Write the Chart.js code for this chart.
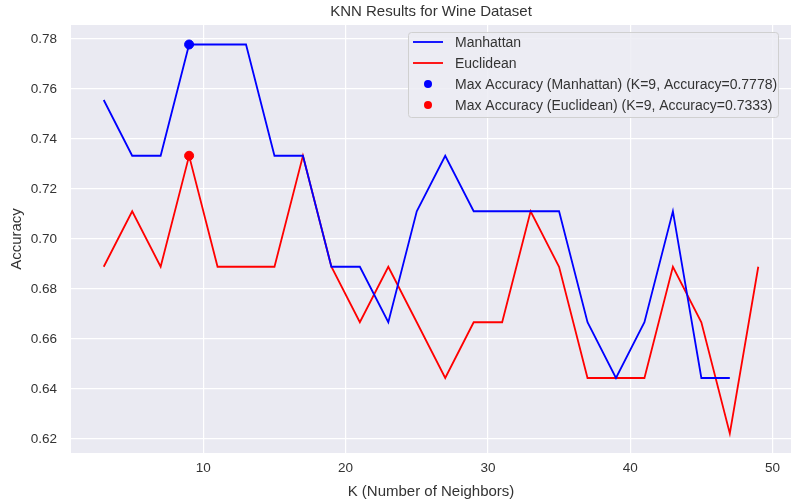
<!DOCTYPE html>
<html>
<head>
<meta charset="utf-8">
<script src="https://cdn.jsdelivr.net/npm/chart.js@4"></script>
<style>
html,body{margin:0;padding:0;background:#fff;}
#wrap{width:791px;height:503px;}
</style>
</head>
<body>
<div id="wrap"><canvas id="c"></canvas></div>
<script>
const kValues=[3,5,7,9,11,13,15,17,19,21,23,25,27,29,31,33,35,37,39,41,43,45,47,49];
const manhattan=[0.7556,0.7333,0.7333,0.7778,0.7778,0.7778,0.7333,0.7333,0.6889,0.6889,0.6667,0.7111,0.7333,0.7111,0.7111,0.7111,0.7111,0.6667,0.6444,0.6667,0.7111,0.6444,0.6444];
const euclidean=[0.6889,0.7111,0.6889,0.7333,0.6889,0.6889,0.6889,0.7333,0.6889,0.6667,0.6889,0.6667,0.6444,0.6667,0.6667,0.7111,0.6889,0.6444,0.6444,0.6444,0.6889,0.6667,0.6222,0.6889];
const maxManhattan={k:9,acc:0.7778};
const maxEuclidean={k:9,acc:0.7333};
const xTicks=[10,20,30,40,50];
const yTicks=[0.62,0.64,0.66,0.68,0.70,0.72,0.74,0.76,0.78];
const chartTitle='KNN Results for Wine Dataset';

const FONT='"Liberation Sans", Arial, sans-serif';
const TXT='#333';

const toPts=(ys)=>ys.map((y,i)=>({x:kValues[i],y}));

// seaborn darkgrid background + title centred over the axes
const bgPlugin={id:'bg',beforeDraw(ch){const a=ch.chartArea,ctx=ch.ctx;ctx.save();ctx.fillStyle='#EAEAF2';ctx.fillRect(a.left,a.top,a.right-a.left,a.bottom-a.top);
  ctx.fillStyle=TXT;ctx.font='15px '+FONT;ctx.textAlign='center';ctx.textBaseline='middle';ctx.fillText(chartTitle,(a.left+a.right)/2,12);ctx.restore();}};

// legend drawn inside the plot, upper right
const legendPlugin={id:'innerLegend',afterDraw(ch){
  const ctx=ch.ctx;ctx.save();
  const bx=408,by=32,bw=370,bh=85;
  ctx.fillStyle='rgba(236,236,243,0.85)';ctx.strokeStyle='#d0d0d0';ctx.lineWidth=1;
  ctx.beginPath();ctx.roundRect(bx+0.5,by+0.5,bw,bh,3);ctx.fill();ctx.stroke();
  ctx.font='14px '+FONT;ctx.textBaseline='middle';
  ch.data.datasets.forEach((d,i)=>{
    const y=42+i*21;
    if(d.type==='scatter'){
      ctx.fillStyle=d.backgroundColor;ctx.beginPath();ctx.arc(428,y,4,0,Math.PI*2);ctx.fill();
    }else{
      ctx.strokeStyle=d.borderColor;ctx.lineWidth=1.8;ctx.beginPath();ctx.moveTo(413,y);ctx.lineTo(443,y);ctx.stroke();
    }
    ctx.fillStyle=TXT;ctx.fillText(d.label,455,y+1);
  });
  ctx.restore();
}};

new Chart(document.getElementById('c'),{
  data:{datasets:[
    {type:'line',label:'Manhattan',data:toPts(manhattan),borderColor:'#0000ff',borderWidth:1.8,pointRadius:0,tension:0},
    {type:'line',label:'Euclidean',data:toPts(euclidean),borderColor:'#ff0000',borderWidth:1.8,pointRadius:0,tension:0},
    {type:'scatter',label:`Max Accuracy (Manhattan) (K=${maxManhattan.k}, Accuracy=${maxManhattan.acc})`,data:[{x:maxManhattan.k,y:maxManhattan.acc}],backgroundColor:'#0000ff',borderColor:'#0000ff',pointRadius:4.5},
    {type:'scatter',label:`Max Accuracy (Euclidean) (K=${maxEuclidean.k}, Accuracy=${maxEuclidean.acc})`,data:[{x:maxEuclidean.k,y:maxEuclidean.acc}],backgroundColor:'#ff0000',borderColor:'#ff0000',pointRadius:4.5}
  ]},
  options:{
    responsive:true,maintainAspectRatio:false,animation:false,
    layout:{autoPadding:false,padding:{left:0,right:0,top:25,bottom:0}},
    plugins:{legend:{display:false},tooltip:{enabled:false},title:{display:false}},
    scales:{
      x:{type:'linear',min:0.7,max:51.3,
        afterBuildTicks:s=>{s.ticks=xTicks.map(v=>({value:v}));},
        afterFit:s=>{s.height=50;s.paddingRight=0;s.paddingLeft=0;},
        grid:{color:'#ffffff',lineWidth:1.2,drawTicks:false},border:{display:false},
        ticks:{color:TXT,font:{family:FONT,size:13.5},padding:7,maxRotation:0},
        title:{display:true,text:'K (Number of Neighbors)',color:TXT,font:{family:FONT,size:15},padding:{top:0,bottom:2}}
      },
      y:{type:'linear',min:0.6144,max:0.7856,
        afterBuildTicks:s=>{s.ticks=yTicks.map(v=>({value:v}));},
        afterFit:s=>{s.width=71;},
        grid:{color:'#ffffff',lineWidth:1.2,drawTicks:false},border:{display:false},
        ticks:{color:TXT,font:{family:FONT,size:13.5},padding:14,callback:v=>v.toFixed(2)},
        title:{display:true,text:'Accuracy',color:TXT,font:{family:FONT,size:15},padding:{top:8,bottom:0}}
      }
    }
  },
  plugins:[bgPlugin,legendPlugin]
});
</script>
</body>
</html>
